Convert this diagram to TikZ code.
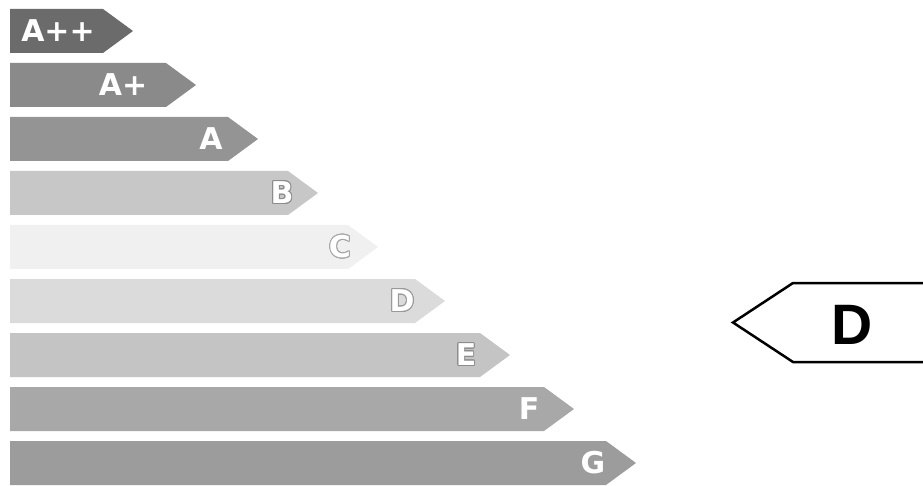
\documentclass[tikz,border=0pt]{standalone}
\usepackage{fontspec}
\setmainfont{Liberation Sans}
\newfontfamily\tagfont{DejaVu Sans}
\usepackage{contour}
\contourlength{1pt}
\tikzset{
  tag/.style={font=\tagfont\bfseries\fontsize{30}{30}\selectfont, text=white, inner sep=0pt},
  grade/.style={draw=black, line width=2.5pt, line join=miter, fill=white},
}
\begin{document}
\begin{tikzpicture}[x=1pt, y=-1pt]
  \useasboundingbox (0,0) rectangle (923,486);
  \clip (0,0) rectangle (923,486);
  \fill[white] (0,0) rectangle (923,486);
  % classes
  \foreach \g/\y/\tip/\lx/\shade [count=\i] in {
      A++/31/133/58/58, A+/85/196/123/46, A/139/258/211/42,
      {\contour{black!45}{B}}/193/318/282/22, {\contour{black!35}{C}}/247/378/340/6,
      {\contour{black!40}{D}}/301/445/402/14, {\contour{black!45}{E}}/355/510/466/23,
      F/409/574/529/34, G/463/636/593/39}
  {
    \fill[black!\shade] (10,\y-22) -- (\tip-30,\y-22) -- (\tip,\y)
      -- (\tip-30,\y+22) -- (10,\y+22) -- cycle;
    \node[tag] (g\i) at (\lx,\y) {\g};
  }
  % rating
  \draw[grade] (940,283) -- (793,283) -- (733,322.5) -- (793,362) -- (940,362);
  \node[font=\bfseries\fontsize{57}{57}\selectfont, inner sep=0pt] (rating) at (852,325) {D};
\end{tikzpicture}
\end{document}
